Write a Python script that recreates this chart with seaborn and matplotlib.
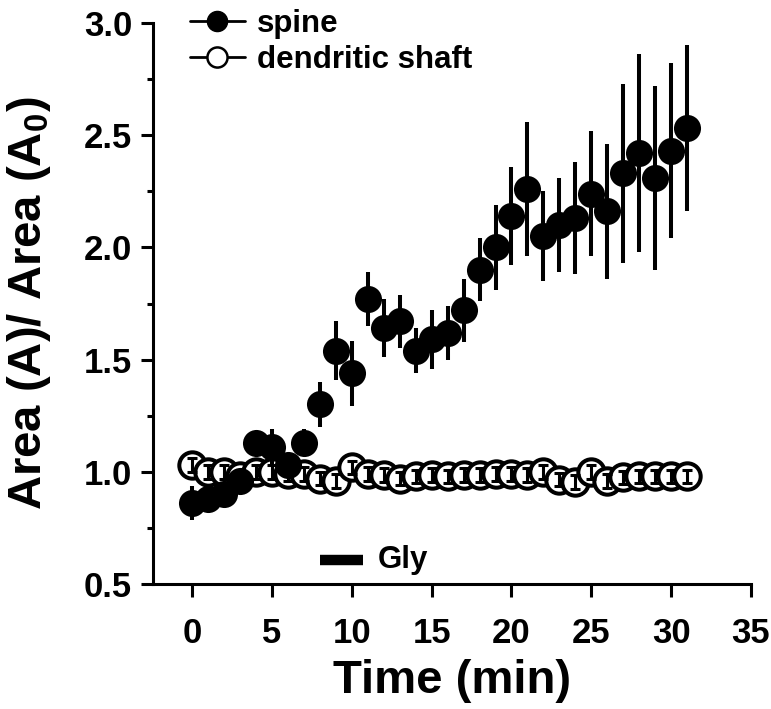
import numpy as np
import pandas as pd
import matplotlib
matplotlib.use('Agg')
import matplotlib.pyplot as plt
from matplotlib.lines import Line2D
from matplotlib.ticker import MultipleLocator
import seaborn as sns

# data
time_min = list(range(32))
spine = [0.86, 0.88, 0.90, 0.96, 1.13, 1.11, 1.03, 1.13, 1.30, 1.54,
         1.44, 1.77, 1.64, 1.67, 1.54, 1.59, 1.62, 1.72, 1.90, 2.00,
         2.14, 2.26, 2.05, 2.10, 2.13, 2.24, 2.16, 2.33, 2.42, 2.31,
         2.43, 2.53]
spine_err = [0.075, 0.05, 0.05, 0.05, 0.05, 0.08, 0.05, 0.06, 0.10, 0.13,
             0.145, 0.12, 0.13, 0.12, 0.10, 0.13, 0.12, 0.14, 0.14, 0.19,
             0.22, 0.30, 0.20, 0.21, 0.25, 0.28, 0.30, 0.40, 0.44, 0.41,
             0.39, 0.37]
shaft = [1.03, 1.00, 1.00, 0.98, 1.00, 1.00, 0.99, 0.99, 0.97, 0.96,
         1.02, 0.99, 0.985, 0.97, 0.98, 0.985, 0.98, 0.985, 0.985, 0.99,
         0.99, 0.985, 1.00, 0.965, 0.955, 1.00, 0.96, 0.975, 0.98, 0.98,
         0.98, 0.98]
shaft_err = [0.03] * 32
gly_start, gly_end = 8.0, 10.7
series_labels = ["spine", "dendritic shaft"]
x_ticks = [0, 5, 10, 15, 20, 25, 30, 35]
y_ticks = [0.5, 1.0, 1.5, 2.0, 2.5, 3.0]

df = pd.DataFrame({'time': time_min, 'spine': spine, 'spine_err': spine_err,
                   'shaft': shaft, 'shaft_err': shaft_err})

sns.set_theme(style="ticks")
plt.rcParams['font.family'] = ['Liberation Sans', 'DejaVu Sans']
plt.rcParams['font.weight'] = 'bold'
plt.rcParams['text.color'] = 'black'
plt.rcParams['axes.labelcolor'] = 'black'
plt.rcParams['mathtext.fontset'] = 'custom'
plt.rcParams['mathtext.rm'] = 'Liberation Sans:bold'
plt.rcParams['mathtext.bf'] = 'Liberation Sans:bold'

fig = plt.figure(figsize=(7.71, 7.09), dpi=100)
ax = fig.add_axes([153 / 771, 1 - 584 / 709, 598 / 771, 561 / 709])

# dendritic shaft (open circles) with small error bars on top
sns.scatterplot(data=df, x='time', y='shaft', ax=ax, s=360, marker='o',
                facecolor='white', edgecolor='black', linewidth=2.9,
                zorder=3, legend=False)
ax.errorbar(df['time'], df['shaft'], yerr=df['shaft_err'], fmt='none',
            ecolor='black', elinewidth=2.2, capsize=3.5, capthick=2.2, zorder=4)

# spine (filled circles)
ax.errorbar(df['time'], df['spine'], yerr=df['spine_err'], fmt='none',
            ecolor='black', elinewidth=2.9, capsize=0, zorder=5)
sns.scatterplot(data=df, x='time', y='spine', ax=ax, s=380, marker='o',
                color='black', edgecolor='black', linewidth=0,
                zorder=6, legend=False)

# glycine application bar
ax.plot([gly_start, gly_end], [0.607, 0.607], color='black', lw=7.5,
        solid_capstyle='butt')
ax.text(gly_end + 0.9, 0.607, "Gly", fontsize=22.5, fontweight='bold',
        va='center', ha='left', color='black')

ax.set_xlim(-2.45, 35)
ax.set_ylim(0.5, 3.0)
ax.set_xticks(x_ticks)
ax.set_yticks(y_ticks)
ax.yaxis.set_minor_locator(MultipleLocator(0.25))
ax.set_yticklabels([f"{v:.1f}" for v in y_ticks])

for side in ['top', 'right']:
    ax.spines[side].set_visible(False)
for side in ['left', 'bottom']:
    ax.spines[side].set_linewidth(2.2)
    ax.spines[side].set_color('black')

ax.tick_params(axis='both', which='major', direction='out', width=2.2,
               length=9, labelsize=25, color='black', labelcolor='black')
ax.tick_params(axis='y', which='minor', direction='out', width=2.2,
               length=4.5, color='black')
ax.tick_params(axis='x', pad=15)
ax.tick_params(axis='y', pad=6)
for lab in ax.get_xticklabels() + ax.get_yticklabels():
    lab.set_fontweight('bold')

ax.set_xlabel("Time (min)", fontsize=34, fontweight='bold', labelpad=6,
              color='black')
ax.set_ylabel(r"Area (A)/ Area (A$_{0}$)", fontsize=34, fontweight='bold',
              labelpad=22, color='black')

handles = [
    Line2D([], [], color='black', lw=2, marker='o', markersize=14.5,
           markerfacecolor='black', markeredgecolor='black'),
    Line2D([], [], color='black', lw=2, marker='o', markersize=14.5,
           markerfacecolor='white', markeredgecolor='black',
           markeredgewidth=1.8),
]
leg = fig.legend(handles, series_labels, loc='upper left',
                 bbox_to_anchor=(190 / 771, 1 - 9 / 709), frameon=False,
                 prop={'size': 22.5, 'weight': 'bold'}, handlelength=1.75,
                 handletextpad=0.4, labelspacing=0.18, borderpad=0,
                 borderaxespad=0)
for t in leg.get_texts():
    t.set_color('black')

fig.savefig('out.png', dpi=100)
